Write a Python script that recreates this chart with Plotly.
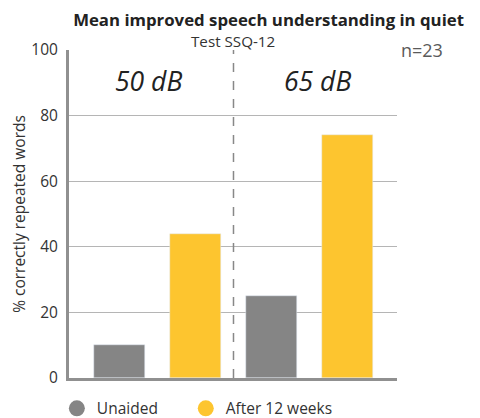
import plotly.graph_objects as go

groups = ["50 dB", "65 dB"]
series_names = ["Unaided", "After 12 weeks"]
unaided = [10, 25]
after12 = [44, 74]
y_ticks = [0, 20, 40, 60, 80, 100]

GRAY = "#858585"
YELLOW = "#FDC52F"
FONT = "Open Sans"
TXT = "#333333"

fig = go.Figure()
x_unaided = [0, 2]
x_after = [1, 3]
fig.add_trace(go.Bar(x=x_unaided, y=unaided, marker_color=GRAY, width=0.67,
                     showlegend=False, name=series_names[0]))
fig.add_trace(go.Bar(x=x_after, y=after12, marker_color=YELLOW, width=0.67,
                     showlegend=False, name=series_names[1]))
for nm, col, lg in zip(series_names, [GRAY, YELLOW], ["legend", "legend2"]):
    fig.add_trace(go.Scatter(x=[None], y=[None], mode="markers", name=nm, legend=lg,
                             marker=dict(symbol="circle", size=18, color=col)))

fig.add_shape(type="line", xref="x", yref="paper", x0=1.5, x1=1.5, y0=0, y1=1,
              line=dict(color="#888888", width=1.5, dash="dash"))

for g, xp in zip(groups, [0.242, 0.758]):
    fig.add_annotation(text=g, xref="paper", yref="paper", x=xp, y=0.907,
                       showarrow=False, font=dict(family=FONT, size=26.5, color="#222222", style="italic"),
                       xanchor="center", yanchor="middle")

fig.add_annotation(text="Test SSQ-12", xref="x", yref="paper", x=1.5, y=1.0,
                   showarrow=False, yanchor="bottom", yshift=-3,
                   font=dict(family=FONT, size=15.2, color=TXT))
fig.add_annotation(text="n=23", xref="paper", yref="paper", x=1.0, y=1.0,
                   showarrow=False, xanchor="left", yanchor="middle", xshift=2,
                   font=dict(family=FONT, size=18, color="#5a5a5a"))

legend_common = dict(orientation="h", xanchor="left", y=-0.042, yanchor="top",
                     font=dict(family=FONT, size=15.5, color=TXT), itemwidth=30,
                     bgcolor="rgba(0,0,0,0)")

# page has an 8px body margin, so the figure is sized to fit the window
fig.update_layout(
    width=472, height=410,
    margin=dict(l=61, r=83, t=42, b=40, autoexpand=False),
    plot_bgcolor="white", paper_bgcolor="white",
    font=dict(family=FONT, color=TXT),
    title=dict(text="<b>Mean improved speech understanding in quiet</b>",
               x=0.552, xanchor="center", y=0.986, yanchor="top",
               font=dict(family=FONT, size=16.8, color="#222222")),
    xaxis=dict(range=[-0.664, 3.651], showticklabels=False, showgrid=False,
               zeroline=False, showline=True, linecolor="#909090", linewidth=3,
               fixedrange=True),
    yaxis=dict(range=[0, 100], tickvals=y_ticks, showgrid=True, gridcolor="#b5b5b5",
               gridwidth=1, zeroline=False, showline=True, linecolor="#909090",
               linewidth=3, ticks="outside", ticklen=5, tickcolor="rgba(0,0,0,0)",
               tickfont=dict(family=FONT, size=15.5, color=TXT),
               title=dict(text="% correctly repeated words", standoff=8,
                          font=dict(family=FONT, size=15.5, color=TXT))),
    legend=dict(x=-0.037, **legend_common),
    legend2=dict(x=0.356, **legend_common),
    bargap=0,
)

fig.write_html("out.html")
